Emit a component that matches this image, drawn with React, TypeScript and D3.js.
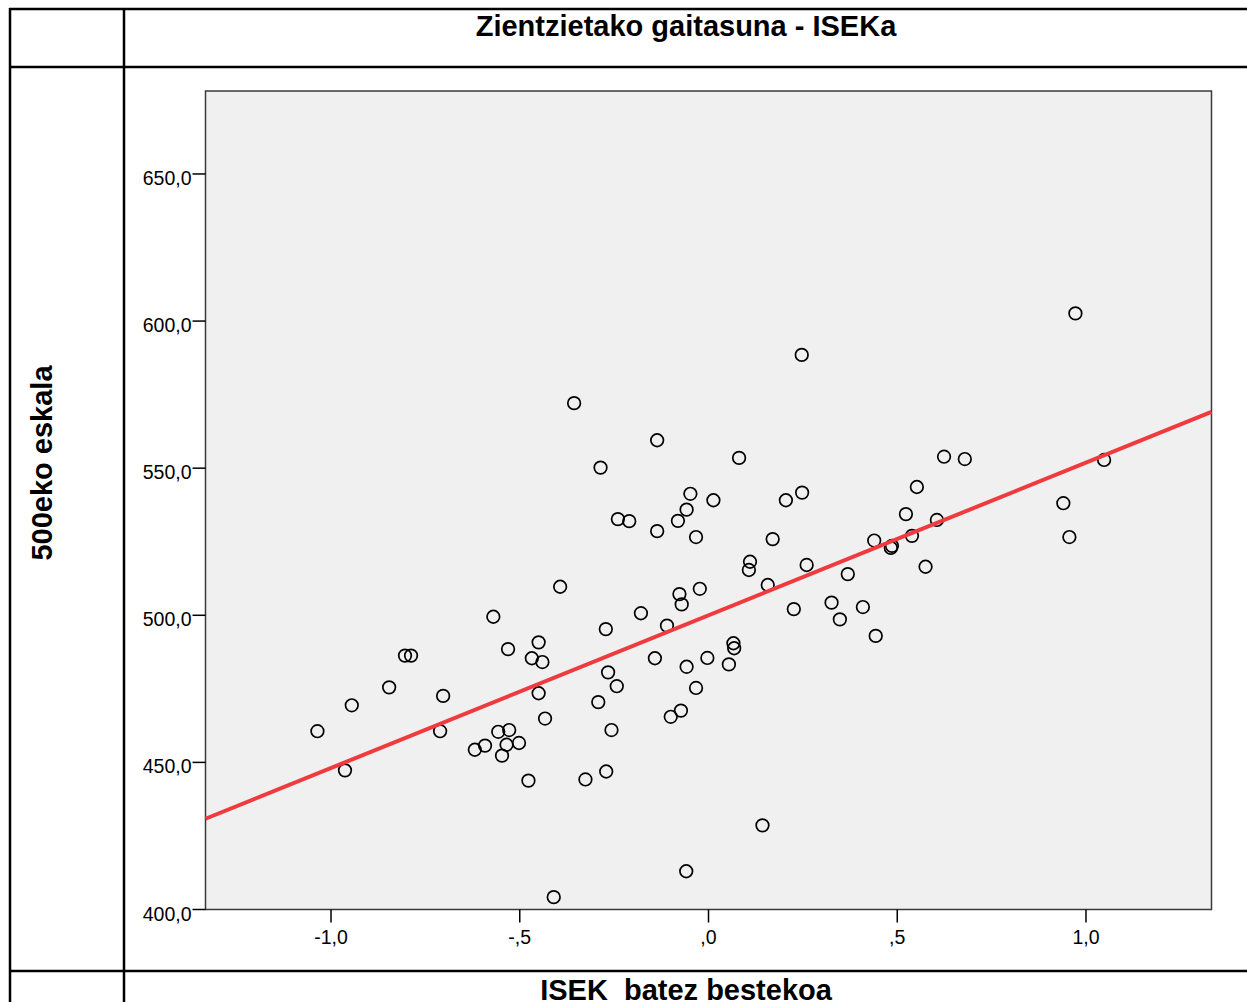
import * as d3 from 'd3';

// ISEK batez bestekoa (x) vs 500eko eskala (y)
const isek = [
  -1.036, -0.963, -0.945, -0.846, -0.804, -0.788, -0.711, -0.703, -0.619, -0.592,
  -0.570, -0.557, -0.547, -0.535, -0.531, -0.528, -0.502, -0.477, -0.468, -0.450,
  -0.440, -0.450, -0.433, -0.410, -0.393, -0.356, -0.326, -0.292, -0.286, -0.272,
  -0.271, -0.266, -0.257, -0.243, -0.240, -0.210, -0.179, -0.142, -0.136, -0.136,
  -0.110, -0.100, -0.081, -0.077, -0.073, -0.071, -0.059, -0.058, -0.058, -0.048,
  -0.033, -0.033, -0.023, -0.003, 0.013, 0.054, 0.066, 0.068, 0.081, 0.107,
  0.110, 0.143, 0.157, 0.170, 0.205, 0.226, 0.247, 0.248, 0.260, 0.326,
  0.348, 0.369, 0.409, 0.439, 0.443, 0.483, 0.486, 0.523, 0.539, 0.552,
  0.575, 0.605, 0.624, 0.679, 0.940, 0.956, 0.972, 1.048,
];
const eskala = [
  460.6, 447.3, 469.4, 475.5, 486.3, 486.3, 460.6, 472.6, 454.3, 455.7,
  499.5, 460.4, 452.3, 456.0, 488.5, 461.0, 456.6, 443.8, 485.4, 490.8,
  484.1, 473.5, 464.9, 404.2, 509.7, 572.1, 444.2, 470.5, 550.2, 495.3,
  446.9, 480.6, 461.0, 475.9, 532.7, 532.0, 500.7, 485.4, 559.5, 528.6,
  496.5, 465.5, 532.1, 507.2, 467.6, 503.7, 413.0, 535.9, 482.5, 541.3,
  526.6, 475.3, 509.0, 485.5, 539.1, 483.3, 490.5, 488.8, 553.5, 515.4,
  518.2, 428.6, 510.3, 525.9, 539.1, 502.1, 588.5, 541.7, 517.1, 504.3,
  498.6, 514.0, 502.8, 525.4, 493.0, 522.9, 523.6, 534.4, 527.0, 543.6,
  516.5, 532.4, 553.9, 553.1, 538.1, 526.6, 602.6, 552.8,
];

const fitIntercept = 500;
const fitSlope = 51.9;

const xTicks = [-1, -0.5, 0, 0.5, 1];
const yTicks = [400, 450, 500, 550, 600, 650];
const xDomain = [-1.3325, 1.3325];
const yDomain = [400, 678.2];

const title = 'Zientzietako gaitasuna - ISEKa';
const xTitle = 'ISEK  batez bestekoa';
const yTitle = '500eko eskala';

const W = 1247;
const H = 1002;
const plot = { left: 205.5, right: 1211.5, top: 91, bottom: 909.5 };
const font = 'Arial, "Liberation Sans", sans-serif';

// SPSS style: comma decimals, no leading zero on the x axis, plain hyphen
const fmt1 = d3.formatLocale({ decimal: ',', thousands: '.', grouping: [3], currency: ['', ''], minus: '-' }).format('.1f');
const fmtY = (v: number) => fmt1(v);
const fmtX = (v: number) => fmt1(v).replace(/^(-?)0,/, '$1,');

export default function App() {
  const x = d3.scaleLinear().domain(xDomain).range([plot.left, plot.right]);
  const y = d3.scaleLinear().domain(yDomain).range([plot.bottom, plot.top]);

  const fit = d3
    .line<number>()
    .x((v) => x(v))
    .y((v) => y(fitIntercept + fitSlope * v));

  const lw = 2.5;

  return (
    <svg
      width={W}
      height={H}
      style={{ position: 'absolute', left: 0, top: 0, display: 'block', background: '#fff' }}
      fontFamily={font}
    >
      {/* table frame */}
      <g stroke="#000" strokeWidth={lw}>
        <line x1={9} x2={W} y1={9} y2={9} />
        <line x1={9} x2={W} y1={67} y2={67} />
        <line x1={9} x2={W} y1={971} y2={971} />
        <line x1={10} x2={10} y1={8} y2={H} />
        <line x1={124} x2={124} y1={8} y2={H} />
      </g>

      <text x={686} y={36} textAnchor="middle" fontSize={29} fontWeight="bold">
        {title}
      </text>
      <text
        transform="translate(52,463) rotate(-90)"
        textAnchor="middle"
        fontSize={29}
        fontWeight="bold"
      >
        {yTitle}
      </text>
      <text x={686} y={1000} textAnchor="middle" fontSize={29} fontWeight="bold" style={{ whiteSpace: 'pre' }}>
        {xTitle}
      </text>

      {/* plot area */}
      <rect
        x={plot.left}
        y={plot.top}
        width={plot.right - plot.left}
        height={plot.bottom - plot.top}
        fill="#f0f0f0"
        stroke="#3a3a3a"
        strokeWidth={1.5}
      />

      {/* y axis */}
      <g>
        {yTicks.map((t) => (
          <g key={t}>
            <line x1={plot.left - 13} x2={plot.left} y1={y(t)} y2={y(t)} stroke="#000" strokeWidth={1.5} />
            <text x={plot.left - 14} y={y(t) + 11} textAnchor="end" fontSize={19.5}>
              {fmtY(t)}
            </text>
          </g>
        ))}
      </g>

      {/* x axis */}
      <g>
        {xTicks.map((t) => (
          <g key={t}>
            <line x1={x(t)} x2={x(t)} y1={plot.bottom} y2={plot.bottom + 13} stroke="#000" strokeWidth={1.5} />
            <text x={x(t)} y={944} textAnchor="middle" fontSize={19.5}>
              {fmtX(t)}
            </text>
          </g>
        ))}
      </g>

      {/* points */}
      <g fill="none" stroke="#000" strokeWidth={1.7}>
        {isek.map((v, i) => (
          <circle key={i} cx={x(v)} cy={y(eskala[i])} r={6.3} />
        ))}
      </g>

      {/* fit line */}
      <path d={fit(xDomain) || ''} stroke="#ef3b3f" strokeWidth={4} fill="none" />
    </svg>
  );
}
